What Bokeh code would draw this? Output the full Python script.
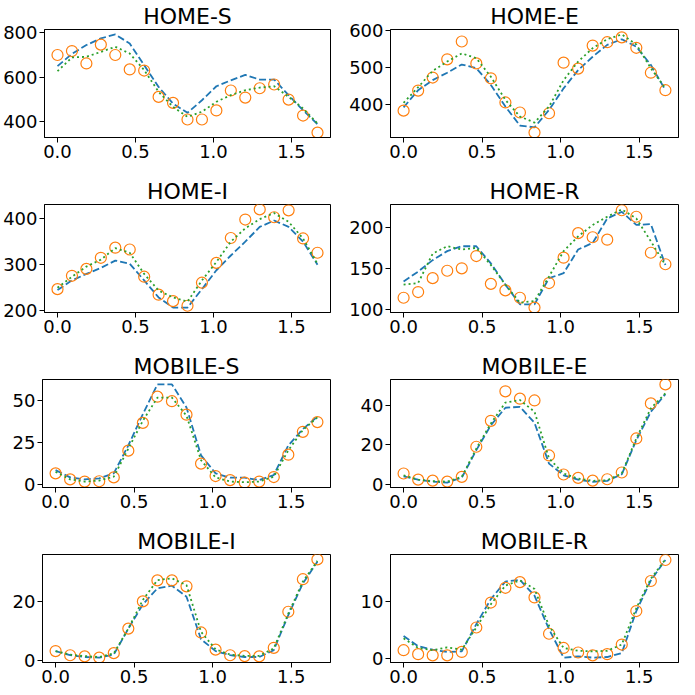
from bokeh.plotting import figure
from bokeh.layouts import column, row
from bokeh.models import Range1d, FixedTicker, NumeralTickFormatter
from bokeh.embed import file_html
from bokeh.resources import INLINE

# ---------------- data ----------------
x = [0.0, 0.0926, 0.1852, 0.2778, 0.3704, 0.4630, 0.5556, 0.6481, 0.7407, 0.8333,
     0.9259, 1.0185, 1.1111, 1.2037, 1.2963, 1.3889, 1.4815, 1.5741, 1.6667]

titles = ["HOME-S", "HOME-E", "HOME-I", "HOME-R",
          "MOBILE-S", "MOBILE-E", "MOBILE-I", "MOBILE-R"]

x_ticks = [0.0, 0.5, 1.0, 1.5]

# HOME-S
home_s_obs = [700, 718, 662, 747, 700, 635, 630, 511, 484, 409, 409, 450, 540, 508, 550, 567, 499, 427, 350]
home_s_dash = [650, 705, 745, 775, 793, 752, 654, 556, 481, 439, 496, 559, 586, 610, 589, 589, 519, 451, 388]
home_s_dot = [627, 689, 692, 714, 737, 707, 632, 534, 466, 421, 444, 489, 519, 541, 553, 559, 511, 459, 391]
home_s_ticks = [400, 600, 800]

# HOME-E
home_e_obs = [384, 438, 473, 522, 570, 511, 471, 406, 379, 325, 377, 513, 497, 559, 568, 581, 553, 486, 439]
home_e_dash = [393, 439, 466, 486, 508, 498, 453, 395, 344, 339, 386, 444, 493, 529, 561, 576, 556, 507, 439]
home_e_dot = [405, 447, 491, 516, 538, 525, 475, 413, 368, 352, 395, 466, 516, 552, 576, 589, 562, 498, 444]
home_e_ticks = [400, 500, 600]

# HOME-I
home_i_obs = [247, 276, 291, 315, 337, 333, 274, 235, 221, 211, 261, 304, 358, 398, 420, 403, 418, 357, 326]
home_i_dash = [245, 266, 280, 293, 309, 302, 266, 229, 207, 207, 247, 288, 320, 350, 382, 396, 382, 350, 300]
home_i_dot = [250, 274, 296, 311, 336, 326, 280, 244, 229, 220, 266, 306, 350, 379, 399, 412, 393, 357, 302]
home_i_ticks = [200, 300, 400]

# HOME-R
home_r_obs = [114, 121, 138, 147, 150, 165, 131, 123, 114, 102, 132, 163, 193, 188, 185, 221, 213, 169, 155]
home_r_dash = [134, 146, 160, 171, 177, 177, 156, 130, 106, 106, 138, 144, 173, 181, 211, 219, 203, 204, 154]
home_r_dot = [130, 132, 168, 177, 173, 175, 154, 130, 108, 110, 140, 171, 189, 203, 213, 222, 211, 183, 154]
home_r_ticks = [100, 150, 200]

# MOBILE-S
mobile_s_obs = [6.5, 2.9, 1.6, 1.8, 4.1, 20.0, 36.5, 52.1, 49.4, 41.4, 12.3, 4.9, 2.5, 1.0, 1.6, 4.3, 17.6, 31.2, 37.0]
mobile_s_dash = [8.4, 4.1, 2.9, 3.5, 6.5, 23.1, 41.7, 59.4, 59.4, 45.7, 17.2, 6.5, 3.9, 3.9, 2.5, 5.5, 23.1, 32.9, 40.2]
mobile_s_dot = [7.4, 2.9, 1.6, 2.2, 4.5, 21.2, 37.8, 51.5, 51.5, 40.8, 14.3, 4.1, 1.6, 1.2, 1.6, 4.5, 20.2, 32.3, 39.8]
mobile_s_ticks = [0, 25, 50]

# MOBILE-E
mobile_e_obs = [5.6, 2.5, 2.0, 1.5, 3.9, 19.1, 32.2, 47.1, 43.4, 42.5, 14.7, 5.1, 3.4, 2.0, 2.7, 6.1, 23.3, 41.0, 50.6]
mobile_e_dash = [4.2, 2.5, 1.5, 1.0, 3.5, 17.4, 30.0, 38.8, 39.3, 31.2, 10.6, 4.7, 2.5, 1.4, 1.9, 5.2, 22.4, 36.8, 45.7]
mobile_e_dot = [4.7, 2.5, 1.7, 1.5, 3.9, 18.2, 30.9, 41.4, 42.7, 36.8, 13.2, 5.6, 3.0, 1.9, 2.2, 5.6, 23.3, 38.5, 46.1]
mobile_e_ticks = [0, 20, 40]

# MOBILE-I
mobile_i_obs = [3.2, 1.8, 1.4, 1.0, 2.5, 10.8, 20.0, 27.1, 27.1, 25.1, 9.5, 3.7, 1.8, 1.5, 1.4, 4.3, 16.5, 27.5, 34.2]
mobile_i_dash = [3.2, 1.8, 1.2, 1.0, 2.0, 10.8, 19.0, 24.4, 25.3, 21.6, 7.2, 3.2, 1.8, 1.2, 1.2, 3.5, 15.4, 26.1, 33.4]
mobile_i_dot = [3.2, 2.0, 1.5, 1.2, 2.4, 10.8, 20.5, 27.2, 27.8, 25.5, 9.7, 3.8, 2.0, 1.6, 1.6, 4.1, 15.9, 26.7, 33.7]
mobile_i_ticks = [0, 20]

# MOBILE-R
mobile_r_obs = [1.4, 0.7, 0.5, 0.5, 1.1, 5.4, 9.8, 12.4, 13.4, 10.7, 4.3, 1.8, 1.0, 0.5, 0.7, 2.4, 8.3, 13.6, 17.3]
mobile_r_dash = [3.9, 2.1, 1.5, 1.1, 1.2, 6.0, 10.4, 13.5, 13.8, 11.0, 5.1, 0.1, 0.3, 0.1, 0.2, 0.9, 8.3, 13.7, 17.3]
mobile_r_dot = [3.5, 1.8, 1.4, 1.9, 1.5, 5.4, 9.5, 12.8, 13.7, 12.2, 5.7, 1.8, 1.3, 1.2, 1.3, 2.4, 8.8, 14.0, 17.4]
mobile_r_ticks = [0, 10]

panels = [
    (home_s_obs, home_s_dash, home_s_dot, home_s_ticks),
    (home_e_obs, home_e_dash, home_e_dot, home_e_ticks),
    (home_i_obs, home_i_dash, home_i_dot, home_i_ticks),
    (home_r_obs, home_r_dash, home_r_dot, home_r_ticks),
    (mobile_s_obs, mobile_s_dash, mobile_s_dot, mobile_s_ticks),
    (mobile_e_obs, mobile_e_dash, mobile_e_dot, mobile_e_ticks),
    (mobile_i_obs, mobile_i_dash, mobile_i_dot, mobile_i_ticks),
    (mobile_r_obs, mobile_r_dash, mobile_r_dot, mobile_r_ticks),
]

BLUE = "#1f77b4"
ORANGE = "#ff7f0e"
GREEN = "#2ca02c"
FONT = "DejaVu Sans"

# layout geometry
col_w = [340, 339]
col_left = [42, 50]
col_right = [10, 1]
row_h = [175, 175, 175, 165]
row_top = [29, 29, 29, 29]
FRAME_H = 108


def pad_range(vals, frac=0.05):
    lo, hi = min(vals), max(vals)
    span = hi - lo
    return lo - frac * span, hi + frac * span


def make_panel(idx):
    obs, dash, dot, yt = panels[idx]
    r, c = divmod(idx, 2)
    xlo, xhi = pad_range(x)
    ylo, yhi = pad_range(obs + dash + dot)
    w, h = col_w[c], row_h[r]
    bl, br, bt = col_left[c], col_right[c], row_top[r]
    bb = h - bt - FRAME_H
    p = figure(width=w, height=h, output_backend="svg", toolbar_location=None,
               x_range=Range1d(xlo, xhi), y_range=Range1d(ylo, yhi),
               min_border_left=bl, min_border_right=br,
               min_border_top=bt, min_border_bottom=bb,
               title=titles[idx])
    p.title.align = "center"
    p.title.text_font = FONT
    p.title.text_font_size = "22px"
    p.title.text_font_style = "normal"
    p.title.text_color = "black"
    p.title.standoff = 1
    p.background_fill_color = "white"
    p.border_fill_color = "white"
    p.outline_line_color = "black"
    p.outline_line_alpha = 1.0
    p.outline_line_width = 1
    p.xgrid.visible = False
    p.ygrid.visible = False

    p.xaxis.ticker = FixedTicker(ticks=x_ticks)
    p.xaxis.formatter = NumeralTickFormatter(format="0.0")
    p.yaxis.ticker = FixedTicker(ticks=yt)
    for ax in (p.xaxis, p.yaxis):
        ax.major_tick_in = 0
        ax.major_tick_out = 5
        ax.minor_tick_line_color = None
        ax.major_tick_line_color = "black"
        ax.axis_line_color = "black"
        ax.major_label_standoff = 2
        ax.major_label_text_font = FONT
        ax.major_label_text_font_size = "18px"
        ax.major_label_text_color = "black"

    p.line(x, dash, line_color=BLUE, line_width=1.8, line_dash="7 3")
    p.scatter(x, obs, marker="circle", size=11, fill_color=None,
              line_color=ORANGE, line_width=1.2)
    p.line(x, dot, line_color=GREEN, line_width=1.8, line_dash="2 3")
    return p


plots = [make_panel(i) for i in range(8)]
layout = column(*[row(plots[2 * i], plots[2 * i + 1]) for i in range(4)])

open("out.html", "w").write(file_html(layout, INLINE))
